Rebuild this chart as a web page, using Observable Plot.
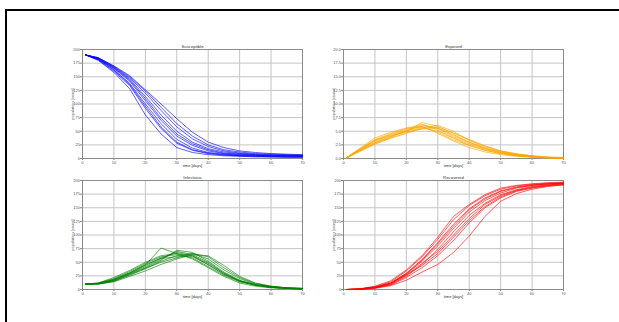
<!DOCTYPE html>
<html><head><meta charset="utf-8">
<script src="https://cdn.jsdelivr.net/npm/d3@7"></script>
<script src="https://cdn.jsdelivr.net/npm/@observablehq/plot@0.6"></script>
<style>
html,body{margin:0;padding:0;background:#fff;width:619px;height:322px;overflow:hidden;position:relative;}
#frame{position:absolute;left:5px;top:9px;width:800px;height:500px;border:2px solid #000;}
.panel{position:absolute;}
</style></head><body>
<div id="frame"></div>
<div id="p0" class="panel" style="left:50px;top:35px"></div>
<div id="p1" class="panel" style="left:311px;top:35px"></div>
<div id="p2" class="panel" style="left:50px;top:166px"></div>
<div id="p3" class="panel" style="left:311px;top:166px"></div>
<script>
const times = [1,5,10,15,20,25,30,35,40,45,50,55,60,65,70];
const xTicks = [0,10,20,30,40,50,60,70];
const countTicks = [0,25,50,75,100,125,150,175,200];
const exposedTicks = [0,2.5,5,7.5,10,12.5,15,17.5,20];
const titles = ["Susceptible","Exposed","Infectious","Recovered"];
const xLabel = "time [days]";
const yLabel = "population [count]";

const susceptibleRuns = [
  [190,180,158,128,80,45,20,11,7,5,4,3,3,2,2],
  [190,181,160,134,92,55,28,15,9,6,5,4,3,3,3],
  [190,182,163,138,100,64,35,19,11,8,6,5,4,4,4],
  [190,183,165,142,106,70,41,24,14,9,7,6,5,5,5],
  [190,185,170,152,126,100,73,48,30,20,14,11,9,8,7],
  [190,182,162,136,96,58,30,16,10,7,5,4,4,3,3],
  [190,184,167,146,114,80,50,30,18,12,9,7,6,5,5],
  [190,183,166,144,110,74,45,27,16,10,8,6,5,5,4],
  [190,184,168,148,120,88,58,36,22,14,10,8,7,6,6],
  [190,185,169,150,124,94,64,41,25,16,12,9,8,7,6]
];
const exposedRuns = [
  [0.2,1.6,3.4,4.4,5.4,5.8,4.8,3.4,2.4,1.5,0.9,0.5,0.3,0.1,0.1],
  [0.1,1.4,2.8,4.0,5.0,6.2,5.6,4.2,3.0,1.9,1.2,0.7,0.4,0.2,0.1],
  [0.2,1.8,3.8,4.8,5.6,5.9,4.6,3.2,2.0,1.2,0.7,0.4,0.2,0.1,0.0],
  [0.1,1.2,2.6,3.8,4.7,5.6,6.1,5.0,3.3,2.1,1.3,0.8,0.5,0.2,0.1],
  [0.2,1.5,3.0,4.1,5.0,6.6,5.9,4.6,3.4,2.3,1.4,0.9,0.5,0.3,0.2],
  [0.1,1.7,3.5,4.6,5.5,6.3,5.2,3.8,2.6,1.7,1.0,0.6,0.3,0.2,0.1],
  [0.2,1.3,2.9,3.9,5.2,6.0,5.5,4.0,2.8,1.8,1.1,0.6,0.3,0.1,0.1],
  [0.1,1.6,3.2,4.4,5.1,5.7,5.0,3.7,2.4,1.5,0.9,0.5,0.3,0.2,0.1],
  [0.2,1.4,2.7,3.7,4.6,5.5,5.8,4.7,3.5,2.3,1.4,0.8,0.4,0.2,0.1],
  [0.1,1.5,3.3,4.2,4.9,5.4,5.6,4.4,3.0,1.9,1.1,0.7,0.4,0.2,0.1]
];
const infectiousRuns = [
  [10,11,18,30,44,58,68,62,45,28,15,8,4,2,1],
  [10,12,20,33,48,60,64,58,42,26,14,8,4,2,1],
  [10,10,15,26,38,52,62,66,56,36,20,10,5,3,2],
  [10,11,17,29,42,56,70,64,50,30,16,9,5,3,2],
  [10,10,14,24,34,46,56,64,62,44,24,12,6,3,2],
  [10,12,22,35,50,62,66,56,40,24,12,6,3,2,1],
  [10,11,16,28,40,54,72,68,52,32,17,9,5,3,1],
  [10,11,19,31,46,57,60,62,48,30,16,8,4,2,1],
  [10,10,16,27,39,50,58,66,60,40,22,11,6,3,2],
  [10,11,18,30,45,76,66,60,46,28,15,8,4,2,1]
];
const recoveredRuns = [
  [0,1,5,14,34,60,92,128,154,172,184,190,193,195,196],
  [0,1,4,12,30,55,86,120,148,168,181,188,192,194,195],
  [0,0,3,9,24,46,74,106,136,158,174,183,189,192,194],
  [0,1,4,11,28,52,80,112,142,163,177,186,191,193,195],
  [0,0,2,7,17,32,46,68,98,134,162,176,184,189,192],
  [0,1,6,16,36,62,96,134,156,174,186,191,194,196,197],
  [0,1,3,10,26,48,70,100,130,156,172,182,188,191,193],
  [0,1,4,12,29,54,84,116,146,166,180,187,191,194,195],
  [0,0,3,8,22,40,62,90,122,150,168,180,186,190,192],
  [0,1,4,11,27,44,66,96,126,152,170,181,187,191,194]
];
const colors = ["#0000ff","#ffa500","#008000","#ff0000"];

function panel(id, title, runs, color, yDomain, yTicks, fmt) {
  const data = runs.flatMap((r, k) => r.map((v, i) => ({run: k, t: times[i], v})));
  const fs = 4;
  const chart = Plot.plot({
    width: 260, height: 145,
    marginLeft: 32, marginRight: 8, marginTop: 14, marginBottom: 22,
    style: {fontFamily: "Liberation Sans", fontSize: fs + "px", color: "#555", background: "transparent", overflow: "visible"},
    x: {domain: [0, 70]},
    y: {domain: yDomain},
    marks: [
      Plot.gridX(xTicks, {stroke: "#c4c4c4", strokeOpacity: 1}),
      Plot.gridY(yTicks, {stroke: "#c4c4c4", strokeOpacity: 1}),
      Plot.frame({stroke: "#8a8a8a"}),
      Plot.lineY(data, {x: "t", y: "v", z: "run", stroke: color, strokeWidth: 0.8, strokeOpacity: 0.8}),
      Plot.axisX(xTicks, {tickSize: 2, tickPadding: 0.5, fontSize: fs, label: null, stroke: "#888"}),
      Plot.axisY(yTicks, {tickSize: 2, tickPadding: 0.5, fontSize: fs, stroke: "#888", tickFormat: fmt,
        label: yLabel, labelAnchor: "center", labelOffset: 11, labelArrow: false}),
      Plot.text([title], {frameAnchor: "top", lineAnchor: "bottom", dy: -2, fontSize: 4.3, fill: "#333"}),
      Plot.text([xLabel], {frameAnchor: "bottom", lineAnchor: "top", dy: 6, fontSize: fs, fill: "#333"})
    ]
  });
  document.getElementById(id).appendChild(chart);
}
const intFmt = d3.format("d");
const decFmt = d3.format(".1f");
panel("p0", titles[0], susceptibleRuns, colors[0], [0, 200], countTicks, intFmt);
panel("p1", titles[1], exposedRuns, colors[1], [0, 20], exposedTicks, decFmt);
panel("p2", titles[2], infectiousRuns, colors[2], [0, 200], countTicks, intFmt);
panel("p3", titles[3], recoveredRuns, colors[3], [0, 200], countTicks, intFmt);
</script>
</body></html>
